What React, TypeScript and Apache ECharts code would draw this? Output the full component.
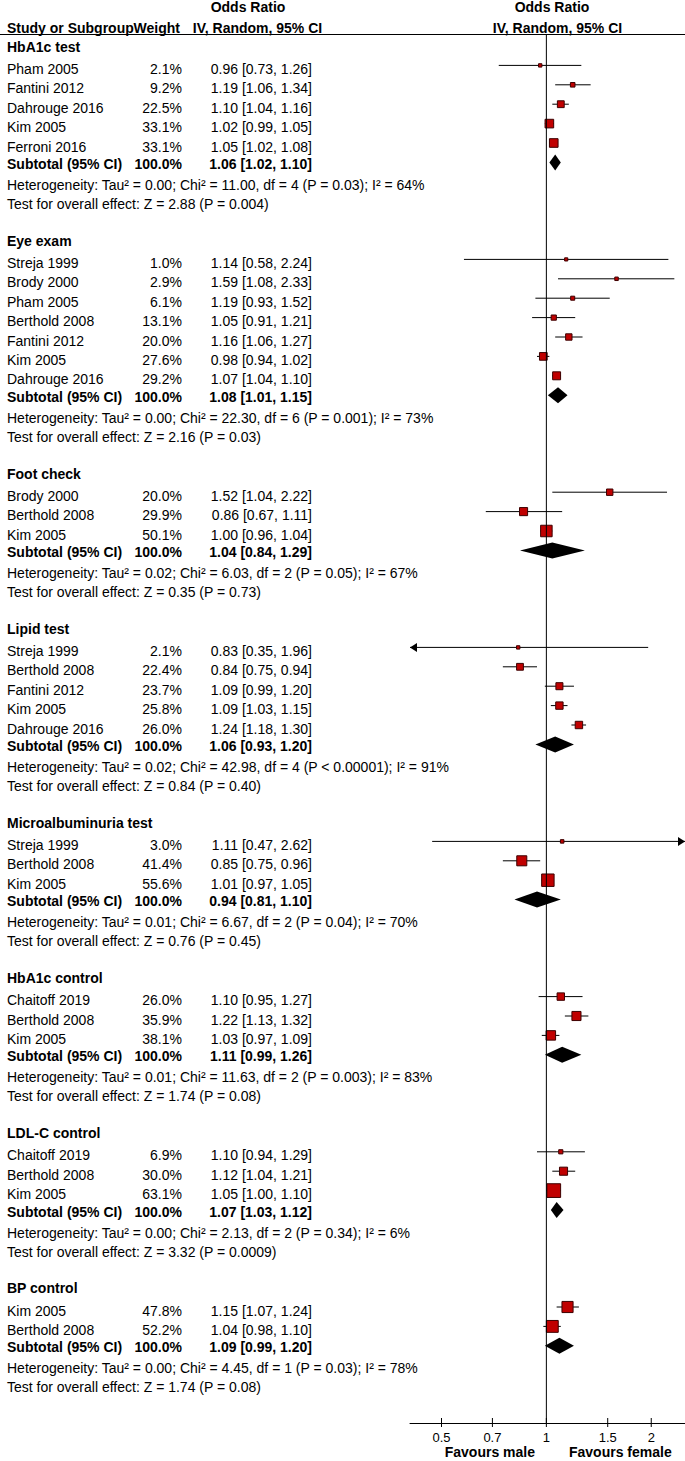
import React, { useEffect, useRef } from "react";
import * as echarts from "echarts";

const groupNames = ["HbA1c test", "Eye exam", "Foot check", "Lipid test", "Microalbuminuria test", "HbA1c control", "LDL-C control", "BP control"];
const studyGroup = [0, 0, 0, 0, 0, 1, 1, 1, 1, 1, 1, 1, 2, 2, 2, 3, 3, 3, 3, 3, 4, 4, 4, 5, 5, 5, 6, 6, 6, 7, 7];
const studyNames = [
  "Pham 2005", "Fantini 2012", "Dahrouge 2016", "Kim 2005", "Ferroni 2016",
  "Streja 1999", "Brody 2000", "Pham 2005", "Berthold 2008", "Fantini 2012", "Kim 2005", "Dahrouge 2016",
  "Brody 2000", "Berthold 2008", "Kim 2005",
  "Streja 1999", "Berthold 2008", "Fantini 2012", "Kim 2005", "Dahrouge 2016",
  "Streja 1999", "Berthold 2008", "Kim 2005",
  "Chaitoff 2019", "Berthold 2008", "Kim 2005",
  "Chaitoff 2019", "Berthold 2008", "Kim 2005",
  "Kim 2005", "Berthold 2008",
];
const studyWeights = [2.1, 9.2, 22.5, 33.1, 33.1, 1.0, 2.9, 6.1, 13.1, 20.0, 27.6, 29.2, 20.0, 29.9, 50.1, 2.1, 22.4, 23.7, 25.8, 26.0, 3.0, 41.4, 55.6, 26.0, 35.9, 38.1, 6.9, 30.0, 63.1, 47.8, 52.2];
const studyOR = [0.96, 1.19, 1.10, 1.02, 1.05, 1.14, 1.59, 1.19, 1.05, 1.16, 0.98, 1.07, 1.52, 0.86, 1.00, 0.83, 0.84, 1.09, 1.09, 1.24, 1.11, 0.85, 1.01, 1.10, 1.22, 1.03, 1.10, 1.12, 1.05, 1.15, 1.04];
const studyLow = [0.73, 1.06, 1.04, 0.99, 1.02, 0.58, 1.08, 0.93, 0.91, 1.06, 0.94, 1.04, 1.04, 0.67, 0.96, 0.35, 0.75, 0.99, 1.03, 1.18, 0.47, 0.75, 0.97, 0.95, 1.13, 0.97, 0.94, 1.04, 1.00, 1.07, 0.98];
const studyHigh = [1.26, 1.34, 1.16, 1.05, 1.08, 2.24, 2.33, 1.52, 1.21, 1.27, 1.02, 1.10, 2.22, 1.11, 1.04, 1.96, 0.94, 1.20, 1.15, 1.30, 2.62, 0.96, 1.05, 1.27, 1.32, 1.09, 1.29, 1.21, 1.10, 1.24, 1.10];
const subtotalOR = [1.06, 1.08, 1.04, 1.06, 0.94, 1.11, 1.07, 1.09];
const subtotalLow = [1.02, 1.01, 0.84, 0.93, 0.81, 0.99, 1.03, 0.99];
const subtotalHigh = [1.10, 1.15, 1.29, 1.20, 1.10, 1.26, 1.12, 1.20];
const hetTau2 = [0.00, 0.00, 0.02, 0.02, 0.01, 0.01, 0.00, 0.00];
const hetChi2 = [11.00, 22.30, 6.03, 42.98, 6.67, 11.63, 2.13, 4.45];
const hetDf = [4, 6, 2, 4, 2, 2, 2, 1];
const hetP = ["= 0.03", "= 0.001", "= 0.05", "< 0.00001", "= 0.04", "= 0.003", "= 0.34", "= 0.03"];
const hetI2 = [64, 73, 67, 91, 70, 83, 6, 78];
const effectZ = [2.88, 2.16, 0.35, 0.84, 0.76, 1.74, 3.32, 1.74];
const effectP = ["0.004", "0.03", "0.73", "0.40", "0.45", "0.08", "0.0009", "0.08"];
const tickValues = [0.5, 0.7, 1, 1.5, 2];
const tickLabels = ["0.5", "0.7", "1", "1.5", "2"];

const X_MIN = 0.406;
const X_MAX = 2.5;
const FONT = '"Liberation Sans", Arial, sans-serif';

type TextRow = { r: number; kind: string; name: string; weight?: string; ci?: string };

const lg = (v: number) => Math.log10(v);
const fmtCI = (o: number, l: number, h: number) => `${o.toFixed(2)} [${l.toFixed(2)}, ${h.toFixed(2)}]`;

const textRows: TextRow[] = [];
const studyItems: number[][] = [];
const diamondItems: number[][] = [];
let rowCursor = 0;
groupNames.forEach((g, gi) => {
  textRows.push({ r: rowCursor, kind: "header", name: g });
  rowCursor++;
  studyNames.forEach((n, si) => {
    if (studyGroup[si] !== gi) return;
    textRows.push({
      r: rowCursor,
      kind: "study",
      name: n,
      weight: studyWeights[si].toFixed(1) + "%",
      ci: fmtCI(studyOR[si], studyLow[si], studyHigh[si]),
    });
    studyItems.push([lg(studyLow[si]), lg(studyHigh[si]), lg(studyOR[si]), rowCursor, studyWeights[si]]);
    rowCursor++;
  });
  textRows.push({
    r: rowCursor,
    kind: "subtotal",
    name: "Subtotal (95% CI)",
    weight: "100.0%",
    ci: fmtCI(subtotalOR[gi], subtotalLow[gi], subtotalHigh[gi]),
  });
  diamondItems.push([lg(subtotalLow[gi]), lg(subtotalHigh[gi]), lg(subtotalOR[gi]), rowCursor]);
  rowCursor++;
  textRows.push({
    r: rowCursor,
    kind: "het",
    name: `Heterogeneity: Tau² = ${hetTau2[gi].toFixed(2)}; Chi² = ${hetChi2[gi].toFixed(2)}, df = ${hetDf[gi]} (P ${hetP[gi]}); I² = ${hetI2[gi]}%`,
  });
  rowCursor++;
  textRows.push({
    r: rowCursor,
    kind: "test",
    name: `Test for overall effect: Z = ${effectZ[gi].toFixed(2)} (P = ${effectP[gi]})`,
  });
  rowCursor++;
  rowCursor++;
});

// layout constants
const GRID_TOP = 35;
const GRID_BOTTOM_Y = 1423;
const ROW_H = 19.4;
const ROW0_Y = 46;
const R_MIN = (GRID_TOP - ROW0_Y) / ROW_H;
const R_MAX = (GRID_BOTTOM_Y - ROW0_Y) / ROW_H;

const textOffset: Record<string, number> = { header: 0.7, study: 3.5, subtotal: 1.6, het: 3.2, test: 2.8 };

function txt(x: number, y: number, text: string, bold: boolean, align: string, size = 14) {
  return {
    type: "text",
    x,
    y,
    silent: true,
    style: {
      text,
      font: `${bold ? "bold " : ""}${size}px ${FONT}`,
      fill: "#000",
      align,
      textAlign: align,
      verticalAlign: "middle",
      textVerticalAlign: "middle",
    },
  };
}

export default function App() {
  const ref = useRef<HTMLDivElement>(null);
  useEffect(() => {
    if (!ref.current) return;
    const chart = echarts.init(ref.current, undefined, { renderer: "svg" });
    const LMIN = lg(X_MIN);
    const LMAX = lg(X_MAX);

    const option: any = {
      animation: false,
      backgroundColor: "#fff",
      grid: { left: 410, right: 0, top: GRID_TOP, bottom: 1461 - GRID_BOTTOM_Y },
      xAxis: {
        type: "value",
        position: "bottom",
        min: LMIN,
        max: LMAX,
        axisLine: { show: true, onZero: false, lineStyle: { color: "#000", width: 1 } },
        axisTick: { show: false },
        splitLine: { show: false },
        axisLabel: {
          customValues: tickValues.map(lg),
          formatter: (v: number) => {
            let best = 0;
            tickValues.forEach((t, i) => {
              if (Math.abs(lg(t) - v) < Math.abs(lg(tickValues[best]) - v)) best = i;
            });
            return tickLabels[best];
          },
          color: "#000",
          fontSize: 13,
          fontFamily: FONT,
          margin: 8,
        },
      },
      yAxis: { type: "value", inverse: true, min: R_MIN, max: R_MAX, show: false },
      graphic: [
        { type: "line", shape: { x1: 0, y1: 34.5, x2: 685, y2: 34.5 }, style: { stroke: "#000", lineWidth: 1 } },
        txt(248, 7, "Odds Ratio", true, "center"),
        txt(7, 27.5, "Study or Subgroup", true, "left"),
        txt(133.5, 27.5, "Weight", true, "left"),
        txt(257.5, 27.5, "IV, Random, 95% CI", true, "center"),
        txt(552, 7, "Odds Ratio", true, "center"),
        txt(557.5, 27.5, "IV, Random, 95% CI", true, "center"),
        txt(535, 1452, "Favours male", true, "right"),
        txt(569, 1452, "Favours female", true, "left"),
      ],
      series: [
        {
          type: "line",
          data: [[0, R_MIN], [0, R_MAX]],
          symbol: "none",
          lineStyle: { color: "#000", width: 1 },
          silent: true,
        },
        {
          type: "custom",
          clip: false,
          silent: true,
          data: tickValues.map((t) => [lg(t), R_MAX]),
          renderItem: (params: any, api: any) => {
            const p = api.coord([api.value(0), api.value(1)]);
            return {
              type: "line",
              shape: { x1: p[0], y1: p[1] - 5, x2: p[0], y2: p[1] + 4 },
              style: { stroke: "#000", lineWidth: 1 },
            };
          },
        },
        {
          type: "custom",
          clip: false,
          silent: true,
          data: textRows.map((t) => [0, t.r]),
          renderItem: (params: any, api: any) => {
            const row = textRows[params.dataIndex];
            const y = api.coord([0, row.r])[1] + textOffset[row.kind];
            const children: any[] = [];
            const bold = row.kind === "header" || row.kind === "subtotal";
            children.push(txt(7, y, row.name, bold, "left"));
            if (row.weight) children.push(txt(182, y, row.weight, bold, "right"));
            if (row.ci) children.push(txt(312, y, row.ci, bold, "right"));
            return { type: "group", children };
          },
        },
        {
          type: "custom",
          clip: false,
          silent: true,
          data: studyItems,
          renderItem: (params: any, api: any) => {
            const lo = api.value(0);
            const hi = api.value(1);
            const est = api.value(2);
            const r = api.value(3);
            const w = api.value(4);
            const c = api.coord([est, r]);
            const y = c[1];
            const xLo = api.coord([Math.max(lo, LMIN), r])[0];
            const xHi = api.coord([Math.min(hi, LMAX), r])[0];
            const children: any[] = [
              { type: "line", shape: { x1: xLo, y1: y, x2: xHi, y2: y }, style: { stroke: "#000", lineWidth: 1 } },
            ];
            if (lo < LMIN) {
              children.push({
                type: "polygon",
                shape: { points: [[xLo, y], [xLo + 7, y - 4.5], [xLo + 7, y + 4.5]] },
                style: { fill: "#000" },
              });
            }
            if (hi > LMAX) {
              children.push({
                type: "polygon",
                shape: { points: [[xHi, y], [xHi - 7, y - 4.5], [xHi - 7, y + 4.5]] },
                style: { fill: "#000" },
              });
            }
            const s = 3 + 0.17 * w;
            children.push({
              type: "rect",
              shape: { x: c[0] - s / 2, y: y - s / 2, width: s, height: s },
              style: { fill: "#c00000", stroke: "#3d0000", lineWidth: 1 },
            });
            return { type: "group", children };
          },
        },
        {
          type: "custom",
          clip: false,
          silent: true,
          data: diamondItems,
          renderItem: (params: any, api: any) => {
            const r = api.value(3);
            const pl = api.coord([api.value(0), r]);
            const ph = api.coord([api.value(1), r]);
            const pe = api.coord([api.value(2), r]);
            const y = pe[1];
            return {
              type: "polygon",
              shape: { points: [[pl[0], y], [pe[0], y - 8], [ph[0], y], [pe[0], y + 8]] },
              style: { fill: "#000" },
            };
          },
        },
      ],
    };
    chart.setOption(option);
    return () => chart.dispose();
  }, []);
  return (
    <div
      ref={ref}
      style={{ position: "absolute", left: 0, top: 0, width: 685, height: 1461, background: "#fff" }}
    />
  );
}
